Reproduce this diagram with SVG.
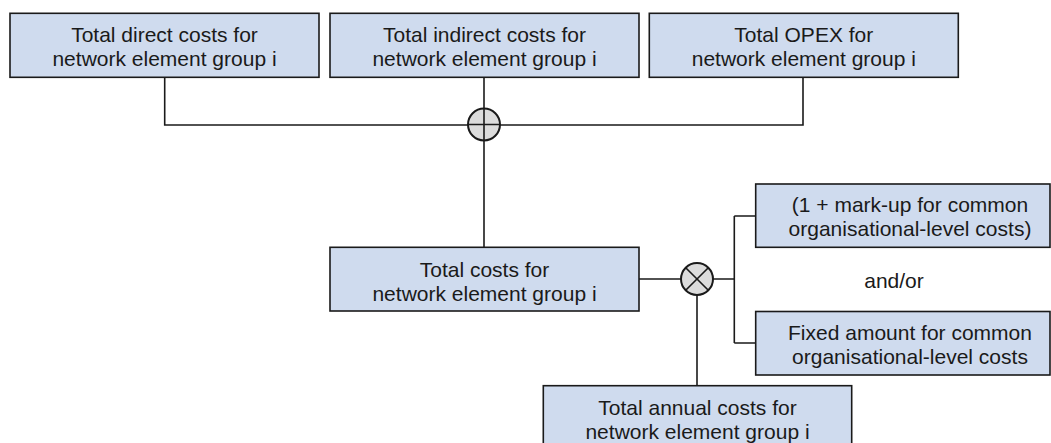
<svg xmlns="http://www.w3.org/2000/svg" width="1051" height="443" viewBox="0 0 1051 443">
<style>
.box{fill:#cfdbee;stroke:#1a1a1a;stroke-width:1.6}
.t{font-family:"Liberation Sans",Arial,sans-serif;font-size:21px;fill:#1a1a1a;text-anchor:middle}
.c{fill:none;stroke:#1a1a1a;stroke-width:1.6}
.op{fill:#dcdcdc;stroke:#1a1a1a;stroke-width:2}
</style>
<rect width="1051" height="443" fill="#ffffff"/>
<g id="connectors">
<path class="c" d="M164.7,77.5V125H803V77.5"/>
<path class="c" d="M484,77.5V247.3"/>
<path class="c" d="M639,279H681M713,279H734.3M734.3,216V343M734.3,216H755.7M734.3,343H755.7"/>
<path class="c" d="M697,295V385.7"/>
</g>
<g id="sum">
<circle class="op" cx="484" cy="124.5" r="16"/>
<path class="c" d="M468,124.5H500M484,108.5V140.5"/>
</g>
<g id="product">
<circle class="op" cx="697" cy="279" r="16"/>
<path class="c" d="M685.7,267.7L708.3,290.3M708.3,267.7L685.7,290.3"/>
</g>
<g id="direct">
<rect class="box" x="10" y="13.3" width="309" height="64"/>
<text class="t" x="164.5" y="41.7">Total direct costs for</text>
<text class="t" x="164.5" y="65.7">network element group i</text>
</g>
<g id="indirect">
<rect class="box" x="330" y="13.3" width="309" height="64"/>
<text class="t" x="484.5" y="41.7">Total indirect costs for</text>
<text class="t" x="484.5" y="65.7">network element group i</text>
</g>
<g id="opex">
<rect class="box" x="649.3" y="13.3" width="309" height="64"/>
<text class="t" x="803.8" y="41.7">Total OPEX for</text>
<text class="t" x="803.8" y="65.7">network element group i</text>
</g>
<g id="total">
<rect class="box" x="330" y="247.3" width="309" height="63.7"/>
<text class="t" x="484.5" y="276.5">Total costs for</text>
<text class="t" x="484.5" y="300.5">network element group i</text>
</g>
<g id="markup">
<rect class="box" x="755.7" y="184" width="294.3" height="63.3"/>
<text class="t" x="910" y="212">(1 + mark-up for common</text>
<text class="t" x="910" y="236">organisational-level costs)</text>
</g>
<text class="t" x="894" y="288">and/or</text>
<g id="fixed">
<rect class="box" x="755.7" y="311.5" width="294.3" height="63.5"/>
<text class="t" x="910" y="339.5">Fixed amount for common</text>
<text class="t" x="910" y="363.5">organisational-level costs</text>
</g>
<g id="annual">
<rect class="box" x="543.3" y="385.7" width="308.4" height="66"/>
<text class="t" x="697.5" y="415">Total annual costs for</text>
<text class="t" x="697.5" y="439">network element group i</text>
</g>
</svg>
